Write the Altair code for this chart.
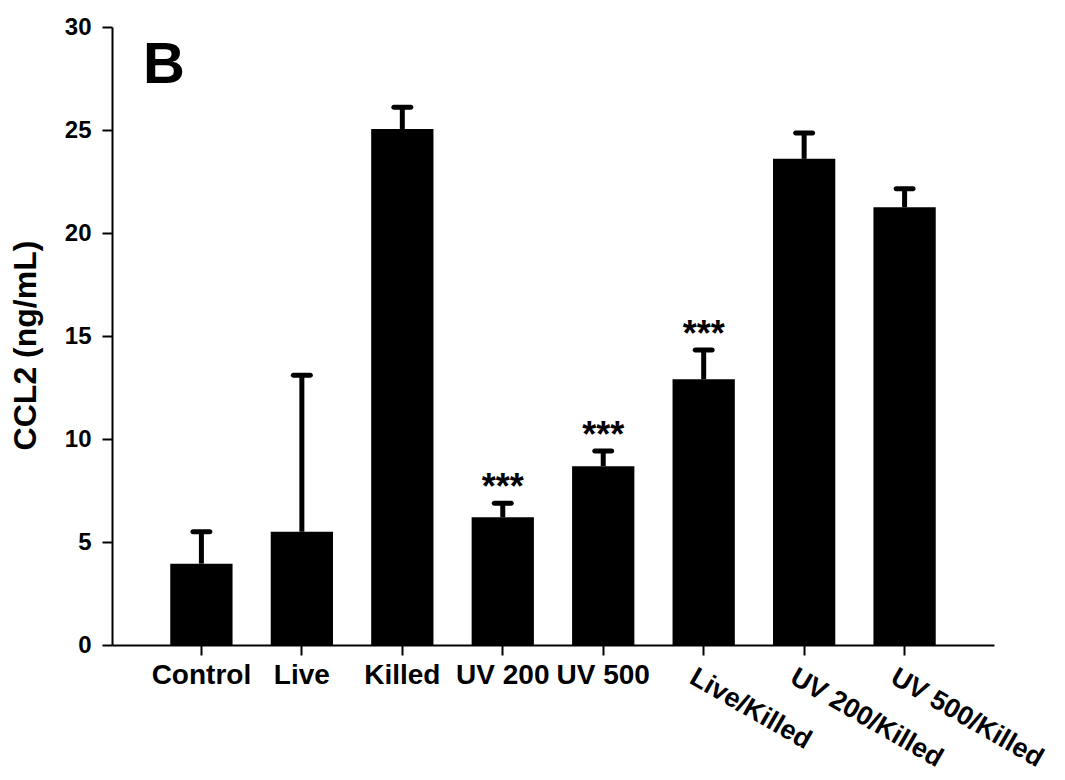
import altair as alt
import pandas as pd

# CCL2 concentration per treatment group (mean with upper error bar)
groups = ["Control", "Live", "Killed", "UV 200", "UV 500",
          "Live/Killed", "UV 200/Killed", "UV 500/Killed"]
means = [3.95, 5.5, 25.05, 6.2, 8.68, 12.9, 23.6, 21.25]
upper = [5.5, 13.1, 26.1, 6.88, 9.42, 14.32, 24.85, 22.15]
marks = ["", "", "", "***", "***", "***", "", ""]

straight_labels = groups[:5]
slanted_labels = groups[5:]

df = pd.DataFrame({"group": groups, "mean": means, "upper": upper, "sig": marks})

FONT = "Liberation Sans"

x = alt.X("group:N", sort=groups,
          scale=alt.Scale(paddingInner=0.38, paddingOuter=0.58),
          axis=alt.Axis(title=None, labels=False, tickSize=10, tickWidth=2,
                        domainWidth=2, domainColor="black", tickColor="black",
                        grid=False))

y = alt.Y("mean:Q",
          scale=alt.Scale(domain=[0, 30], nice=False),
          axis=alt.Axis(values=[0, 5, 10, 15, 20, 25, 30], tickSize=10, tickWidth=2,
                        domainWidth=2, domainColor="black", tickColor="black",
                        labelFont=FONT, labelFontSize=24, labelFontWeight="bold",
                        labelColor="black", labelPadding=11, grid=False,
                        title="CCL2 (ng/mL)", titleFont=FONT, titleFontSize=32,
                        titleFontWeight="bold", titleColor="black",
                        titleX=-70, titleY=318, titleAngle=-90, titleBaseline="bottom"))

base = alt.Chart(df)

bars = base.mark_bar(color="black", opacity=1).encode(x=x, y=y)

stems = base.mark_rule(color="black", strokeWidth=5, opacity=1).encode(
    x=alt.X("group:N", sort=groups), y="mean:Q", y2="upper:Q")

caps = base.mark_tick(color="black", opacity=1, size=22, thickness=5,
                      cornerRadius=2.5).encode(
    x=alt.X("group:N", sort=groups), y="upper:Q")

stars = base.mark_text(font=FONT, fontSize=36, fontWeight="bold", color="black",
                       baseline="alphabetic", dy=-4).encode(
    x=alt.X("group:N", sort=groups), y="upper:Q", text="sig:N")

label_straight = base.transform_filter(
    alt.FieldOneOfPredicate(field="group", oneOf=straight_labels)
).mark_text(font=FONT, fontSize=28, fontWeight="bold", color="black",
            baseline="top", align="center").encode(
    x=alt.X("group:N", sort=groups), y=alt.value(635), text="group:N")

label_slanted = base.transform_filter(
    alt.FieldOneOfPredicate(field="group", oneOf=slanted_labels)
).mark_text(font=FONT, fontSize=27, fontWeight="bold", color="black",
            baseline="top", align="left", angle=30, dx=-6).encode(
    x=alt.X("group:N", sort=groups), y=alt.value(640), text="group:N")

panel = alt.Chart(pd.DataFrame({"t": ["B"]})).mark_text(
    font=FONT, fontSize=58, fontWeight="bold", color="black",
    align="left", baseline="alphabetic").encode(
    x=alt.value(31), y=alt.value(56), text="t:N")

chart = alt.layer(bars, stems, caps, stars, label_straight, label_slanted, panel).properties(
    width=882, height=618,
    autosize=alt.AutoSizeParams(type="none"),
    padding={"left": 112, "top": 27, "right": 71, "bottom": 135},
    background="white",
).configure_view(stroke=None)

chart.save("out.html", embed_options={"renderer": "svg", "actions": False})
